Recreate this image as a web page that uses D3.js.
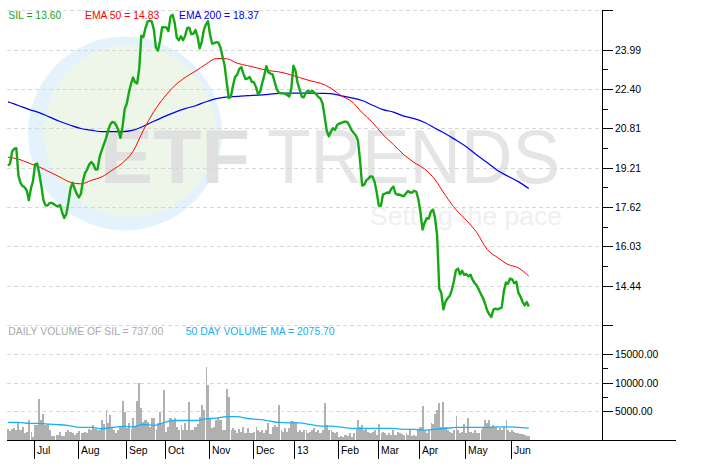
<!DOCTYPE html>
<html><head><meta charset="utf-8">
<script src="https://cdn.jsdelivr.net/npm/d3@7"></script>
<style>body{margin:0;background:#fff;} svg{display:block;font-family:"Liberation Sans",Arial,sans-serif;}</style>
</head><body><svg id="c" width="720" height="469"></svg>
<script>
// SIL daily close (trading days, mid-Jun 2012 .. mid-Jun 2013)
const sil = [19.30,19.38,19.87,19.98,20.00,18.90,18.60,18.47,18.42,18.29,
17.90,18.37,18.67,19.35,19.38,18.98,18.49,17.90,17.69,17.68,
17.79,17.79,17.74,17.68,17.65,17.70,17.40,17.18,17.34,17.81,
18.37,18.60,18.37,18.15,18.01,18.15,18.69,19.00,19.14,19.35,
19.44,19.34,19.14,19.15,19.66,19.91,20.16,20.39,20.69,20.95,
21.06,21.04,20.92,20.73,20.42,20.88,21.58,21.80,22.24,22.59,
22.86,22.67,22.62,23.22,24.55,24.50,24.86,25.12,25.16,25.12,
24.81,24.07,23.95,24.35,24.90,24.89,24.89,24.74,25.32,25.40,
25.08,24.48,24.37,24.53,24.37,24.54,24.86,24.88,24.62,24.63,
24.78,24.51,24.04,24.30,24.78,25.01,25.14,24.59,24.23,24.25,
24.29,24.27,24.07,23.70,23.34,22.65,22.03,22.09,22.53,22.89,
22.97,23.20,23.28,23.02,22.80,22.82,22.88,22.69,22.67,22.49,
22.20,22.27,22.63,22.94,23.32,23.07,23.02,22.99,22.69,22.39,
22.25,22.22,22.22,22.21,22.16,22.09,22.41,23.34,23.14,22.65,
22.37,22.09,22.06,22.25,22.33,22.27,22.33,22.25,22.18,22.07,
22.01,21.81,21.28,20.71,20.48,20.67,20.81,20.75,20.94,21.00,
21.02,21.06,21.08,21.05,20.90,20.72,20.62,20.51,20.31,19.50,
18.49,18.52,18.70,18.77,18.86,18.85,18.63,18.21,17.68,17.67,
18.13,18.16,18.21,18.19,18.36,18.45,18.17,18.12,18.13,18.08,
18.06,18.17,18.27,18.21,18.21,18.28,18.24,17.93,17.40,16.71,
16.99,17.17,17.16,17.44,17.52,17.18,16.47,14.33,14.15,13.48,
13.79,13.93,14.02,14.25,14.61,15.06,15.13,14.90,15.04,14.88,
14.91,14.82,14.88,14.68,14.55,14.45,14.28,14.10,13.94,13.72,
13.44,13.28,13.17,13.47,13.51,13.48,13.52,13.55,14.21,14.57,
14.52,14.73,14.70,14.54,14.60,14.16,14.00,13.79,13.64,13.78,
13.60];

// daily volume
const volume = [1840,1610,1840,2010,1725,2875,1725,2300,1150,1440,
3450,1440,460,2590,2590,7190,3450,4600,2590,2700,
1725,690,690,860,860,1440,690,690,1440,1725,
1440,1150,860,1150,1610,1265,1265,1380,1265,1900,
1725,2590,1840,1725,1725,3450,2760,5175,2875,4310,
2300,1725,1150,1725,2300,6785,4890,2010,2990,1840,
3910,2300,6785,9950,5520,3160,3565,3160,2300,3910,
3740,1725,2990,4945,2875,8625,1440,2300,3740,3450,
3740,2300,1725,2590,1725,2875,1725,6610,1725,1725,
2300,2700,4025,6040,5175,12650,9490,3740,2010,2300,
3450,3740,3450,1725,1725,8910,7475,1725,2010,1725,
1150,1840,1440,2300,1150,2010,1150,1150,1440,2300,
1725,1440,1725,1150,1725,2875,1035,2300,2590,2185,
6040,1725,1440,2010,1440,2010,3335,3335,3160,1440,
1725,1440,1725,1725,1150,1440,1725,2010,1440,1725,
1150,1725,6440,2590,1725,1725,1440,1150,1440,575,
690,575,860,690,1150,575,1150,1840,3450,2300,
2590,1725,2010,1440,1150,1440,1725,860,2760,1150,
1440,1150,860,1150,860,1725,860,1440,1150,1035,
860,1150,860,1725,690,860,690,1725,2300,5865,
1725,1150,1725,2875,2760,4600,5290,6440,2300,6610,
2300,1725,1440,1150,1725,4140,1725,1150,1440,2760,
1150,3910,1440,1150,1725,1265,1265,1725,2300,3450,
2875,3565,2300,2590,2300,1725,2010,1725,2185,3450,
1725,1440,1725,1440,1265,1150,1035,1035,860,750,
737];

// moving averages, sampled every 5 trading days
const sampleStep = 5;
const ema50 = [19.64,19.56,19.40,19.24,19.04,18.83,18.62,18.56,18.70,18.84,
19.11,19.41,19.87,20.73,21.48,22.06,22.53,22.86,23.12,23.40,
23.63,23.62,23.44,23.34,23.24,23.14,23.09,22.99,22.86,22.73,
22.63,22.43,22.12,21.89,21.44,21.04,20.55,20.15,19.74,19.42,
19.16,18.73,18.09,17.52,17.09,16.59,15.91,15.58,15.30,15.16,
14.83];
const ema200 = [21.88,21.73,21.57,21.44,21.26,21.08,20.93,20.80,20.73,20.67,
20.67,20.67,20.73,20.89,21.09,21.28,21.45,21.60,21.72,21.88,
22.01,22.07,22.10,22.13,22.15,22.18,22.22,22.23,22.23,22.23,
22.22,22.21,22.12,22.04,21.93,21.74,21.56,21.46,21.30,21.20,
21.04,20.81,20.59,20.33,20.06,19.73,19.42,19.10,18.87,18.65,
18.37];
const volMA = [3050,3050,2875,2875,2760,2650,2470,2185,2185,1955,
2185,2360,2300,2700,2530,3050,3390,3390,3390,3680,
3800,4080,4080,3740,3570,3340,3050,2990,2990,2700,
2415,2415,2240,2010,2010,2010,2010,2010,1840,1840,
1725,1900,2010,2185,2185,2185,2185,2300,2300,2185,
2076];

const monthIdx = [13,34,57,76,97,118,138,159,178,198,220,242];
const monthLabels = ["Jul","Aug","Sep","Oct","Nov","Dec","13","Feb","Mar","Apr","May","Jun"];
const priceTicks = [12.85,14.44,16.03,17.62,19.21,20.81,22.40,23.99,25.58];
const priceLabels = ["","14.44","16.03","17.62","19.21","20.81","22.40","23.99",""];
const volTicks = [5000,10000,15000];
const volLabels = ["5000.00","10000.00","15000.00"];
const legendPrice = [["SIL = 13.60","#1aa51a"],["EMA 50 = 14.83","#ff0000"],["EMA 200 = 18.37","#0000ee"]];
const legendVol = [["DAILY VOLUME OF SIL = 737.00","#a9a9a9"],["50 DAY VOLUME MA = 2075.70","#13b0f2"]];

const svg = d3.select("#c");
const FS = "10.4px";
const axisX = 602.5;

const x = d3.scaleLinear().domain([0, sil.length-1]).range([8, 528.8]);
const step = x(1)-x(0);
const y = d3.scaleLinear().domain([12.85, 25.58]).range([325, 10.3]);
const yv = d3.scaleLinear().domain([0, 20000]).range([440, 325]);

// watermark
const wm = svg.append("g");
wm.append("circle").attr("cx",125).attr("cy",133.5).attr("r",97).attr("fill","#e4f3fb");
wm.append("circle").attr("cx",130).attr("cy",131).attr("r",86).attr("fill","#edf6e8");
wm.append("text").attr("x",100).attr("y",183).attr("font-size",76).attr("font-weight","bold")
  .attr("textLength",150).attr("lengthAdjust","spacingAndGlyphs").attr("fill","#e0e0e0").text("ETF");
wm.append("text").attr("x",267).attr("y",183).attr("font-size",76)
  .attr("textLength",293).attr("lengthAdjust","spacingAndGlyphs").attr("fill","#e5e5e5").text("TRENDS");
wm.append("text").attr("x",370).attr("y",225).attr("font-size",25)
  .attr("textLength",192).attr("lengthAdjust","spacingAndGlyphs").attr("fill","#efefef").text("Setting the pace");

// grid
const grid = svg.append("g").attr("stroke","#d8d8d8").attr("stroke-dasharray","4,3").attr("shape-rendering","crispEdges");
priceTicks.forEach(t => grid.append("line").attr("x1",7).attr("x2",axisX).attr("y1",Math.round(y(t))+0.5).attr("y2",Math.round(y(t))+0.5));
volTicks.forEach(t => grid.append("line").attr("x1",7).attr("x2",axisX).attr("y1",Math.round(yv(t))+0.5).attr("y2",Math.round(yv(t))+0.5));

// volume bars
svg.append("g").attr("shape-rendering","crispEdges").selectAll("rect").data(volume).join("rect")
  .attr("x",(d,i)=>x(i)-step/2).attr("width",step).attr("y",d=>yv(d)).attr("height",d=>440-yv(d))
  .attr("fill","#b0b0b0");
// white separators
const sep = svg.append("g").attr("stroke","#fff").attr("shape-rendering","crispEdges");
for(let k=10.5;k<sil.length;k+=12){ const xx=Math.round(x(k))+0.5; sep.append("line").attr("x1",xx).attr("x2",xx).attr("y1",330).attr("y2",440); }

const sIdx = (d,i)=>x(i*sampleStep);
svg.append("path").datum(volMA).attr("fill","none").attr("stroke","#17b2f5").attr("stroke-width",1.3)
  .attr("d",d3.line().x(sIdx).y(d=>yv(d)).curve(d3.curveMonotoneX));
svg.append("path").datum(ema200).attr("fill","none").attr("stroke","#0000ee").attr("stroke-width",1.2)
  .attr("d",d3.line().x(sIdx).y(d=>y(d)).curve(d3.curveMonotoneX));
svg.append("path").datum(ema50).attr("fill","none").attr("stroke","#ff0000").attr("stroke-width",1)
  .attr("d",d3.line().x(sIdx).y(d=>y(d)).curve(d3.curveMonotoneX));
svg.append("path").datum(sil).attr("fill","none").attr("stroke","#14a814").attr("stroke-width",2.4)
  .attr("stroke-linejoin","round")
  .attr("d",d3.line().x((d,i)=>x(i)).y(d=>y(d)));

// legends
let lx=[8.3,85,179];
legendPrice.forEach((l,i)=>svg.append("text").attr("x",lx[i]).attr("y",19.3).attr("font-size",FS).attr("fill",l[1]).text(l[0]));
let vx=[8.3,185.7];
legendVol.forEach((l,i)=>svg.append("text").attr("x",vx[i]).attr("y",335).attr("font-size",FS).attr("fill",l[1]).text(l[0]));

// axes
const ax = svg.append("g").attr("stroke","#000").attr("shape-rendering","crispEdges");
ax.append("line").attr("x1",axisX).attr("x2",axisX).attr("y1",10).attr("y2",440);
ax.append("line").attr("x1",7).attr("x2",676).attr("y1",440.5).attr("y2",440.5);
priceTicks.forEach((t,i)=>{
  const yy=Math.round(y(t))+0.5;
  ax.append("line").attr("x1",axisX).attr("x2",613).attr("y1",yy).attr("y2",yy);
  if(priceLabels[i]) svg.append("text").attr("x",615).attr("y",yy).attr("dy","0.36em").attr("font-size",FS).attr("fill","#000").text(priceLabels[i]);
  if(i>0 && i<priceTicks.length-2){
    const ym=Math.round(y((t+priceTicks[i+1])/2))+0.5;
    ax.append("line").attr("x1",axisX).attr("x2",608).attr("y1",ym).attr("y2",ym);
  }
});
volTicks.forEach((t,i)=>{
  const yy=Math.round(yv(t))+0.5;
  ax.append("line").attr("x1",axisX).attr("x2",613).attr("y1",yy).attr("y2",yy);
  svg.append("text").attr("x",615).attr("y",yy).attr("dy","0.36em").attr("font-size",FS).attr("fill","#000").text(volLabels[i]);
  if(i<volTicks.length-1){
    const ym=Math.round(yv((t+volTicks[i+1])/2))+0.5;
    ax.append("line").attr("x1",axisX).attr("x2",608).attr("y1",ym).attr("y2",ym);
  }
});
monthIdx.forEach((m,i)=>{
  const xx=Math.round(x(m-0.5))+0.5;
  ax.append("line").attr("x1",xx).attr("x2",xx).attr("y1",440).attr("y2",459);
  svg.append("text").attr("x",xx+2.5).attr("y",453.5).attr("font-size",FS).attr("fill","#000").text(monthLabels[i]);
});
</script></body></html>
